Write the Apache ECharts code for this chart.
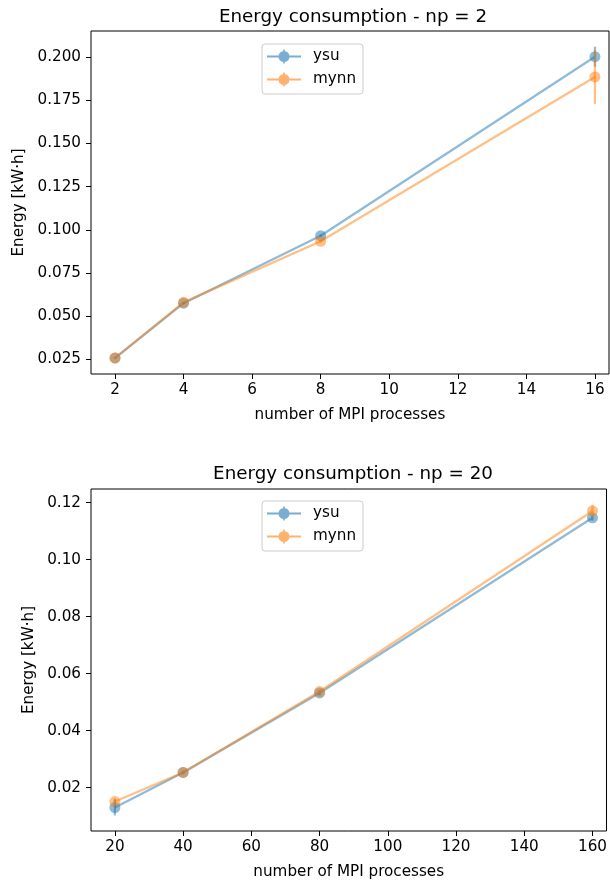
<!DOCTYPE html>
<html>
<head>
<meta charset="utf-8" />
<title>Energy consumption</title>
<style>
html, body { margin: 0; padding: 0; background: #fff; }
#main { width: 610px; height: 882px; }
</style>
</head>
<body>
<div id="main"></div>
<script src="https://cdn.jsdelivr.net/npm/echarts@6/dist/echarts.min.js"></script>
<script>
// top panel: np = 2
var procsTop = [2, 4, 8, 16];
var ysuTop = [0.0257, 0.0575, 0.0966, 0.2003];
var ysuTopErr = [0.0003, 0.0006, 0.0008, 0.0058];
var mynnTop = [0.0258, 0.0580, 0.0934, 0.1886];
var mynnTopErr = [0.0003, 0.0006, 0.0008, 0.0156];
var xTicksTop = [2, 4, 6, 8, 10, 12, 14, 16];
var yTicksTop = [0.025, 0.050, 0.075, 0.100, 0.125, 0.150, 0.175, 0.200];

// bottom panel: np = 20
var procsBot = [20, 40, 80, 160];
var ysuBot = [0.0130, 0.0253, 0.0532, 0.1147];
var ysuBotErr = [0.0028, 0.0006, 0.0008, 0.0010];
var mynnBot = [0.0151, 0.0253, 0.0537, 0.1171];
var mynnBotErr = [0.0012, 0.0006, 0.0008, 0.0022];
var xTicksBot = [20, 40, 60, 80, 100, 120, 140, 160];
var yTicksBot = [0.02, 0.04, 0.06, 0.08, 0.10, 0.12];

var BLUE = '#1f77b4', ORANGE = '#ff7f0e';
var FONT = 'DejaVu Sans';
var FS = 15.2;
// line + marker + vertical errorbar, like matplotlib's legend handle
var ICON = 'path://M0,6.1H34V7.9H0Z M11.5,7A5.5,5.5 0 1,1 22.5,7A5.5,5.5 0 1,1 11.5,7Z M16.2,0H17.8V14H16.2Z';

function pairs(xs, ys) {
  return xs.map(function (x, i) { return [x, ys[i]]; });
}
function triples(xs, ys, es) {
  return xs.map(function (x, i) { return [x, ys[i], es[i]]; });
}

function errBars(color) {
  return function (params, api) {
    var x = api.value(0), y = api.value(1), e = api.value(2);
    var a = api.coord([x, y - e]);
    var b = api.coord([x, y + e]);
    return {
      type: 'line',
      shape: { x1: a[0], y1: a[1], x2: b[0], y2: b[1] },
      style: { stroke: color, lineWidth: 2.3, opacity: 0.5 }
    };
  };
}

function lineSeries(name, idx, data, color) {
  return {
    name: name, type: 'line', xAxisIndex: idx, yAxisIndex: idx,
    data: data, symbol: 'circle', symbolSize: 11, showSymbol: true,
    lineStyle: { color: color, width: 2.3, opacity: 0.5 },
    itemStyle: { color: color, opacity: 0.5, borderWidth: 0 },
    emphasis: { disabled: true }, animation: false, z: 2
  };
}

function errSeries(name, idx, data, color) {
  return {
    name: name, type: 'custom', xAxisIndex: idx, yAxisIndex: idx,
    data: data, renderItem: errBars(color), animation: false, z: 3,
    encode: { x: 0, y: 1 }
  };
}

function xAxisFor(idx, min, max, ticks) {
  return {
    type: 'value', gridIndex: idx, min: min, max: max,
    name: 'number of MPI processes', nameLocation: 'middle', nameGap: 34,
    nameTextStyle: { fontFamily: FONT, fontSize: FS, color: '#000' },
    axisLine: { show: false },
    axisTick: { show: true, length: 5, inside: false, customValues: ticks,
      lineStyle: { color: '#000', width: 1 } },
    axisLabel: { customValues: ticks, margin: 9, fontFamily: FONT, fontSize: FS, color: '#000' },
    splitLine: { show: false }
  };
}

function yAxisFor(idx, min, max, ticks, digits, gap) {
  return {
    type: 'value', gridIndex: idx, min: min, max: max,
    name: 'Energy [kW·h]', nameLocation: 'middle', nameGap: gap, nameRotate: 90,
    nameTextStyle: { fontFamily: FONT, fontSize: FS, color: '#000' },
    axisLine: { show: false },
    axisTick: { show: true, length: 5, inside: false, customValues: ticks,
      lineStyle: { color: '#000', width: 1 } },
    axisLabel: { customValues: ticks, margin: 10, fontFamily: FONT, fontSize: FS, color: '#000',
      formatter: function (v) { return v.toFixed(digits); } },
    splitLine: { show: false }
  };
}

function legendFor(top) {
  return {
    orient: 'vertical', left: 262, top: top,
    data: [
      { name: 'ysu', icon: ICON, itemStyle: { color: BLUE, opacity: 0.6 } },
      { name: 'mynn', icon: ICON, itemStyle: { color: ORANGE, opacity: 0.6 } }
    ],
    itemWidth: 34, itemHeight: 14, itemGap: 8,
    padding: [5, 7, 7, 5],
    backgroundColor: 'rgba(255,255,255,0.8)',
    borderColor: '#cccccc', borderWidth: 1, borderRadius: 3,
    textStyle: { fontFamily: FONT, fontSize: FS, color: '#000', padding: [0, 0, 0, 7] },
    selectedMode: false
  };
}

var chart = echarts.init(document.getElementById('main'), null, { renderer: 'canvas' });

var option = {
  backgroundColor: '#fff',
  animation: false,
  title: [
    { text: 'Energy consumption - np = 2', left: 353, top: 8, textAlign: 'center', padding: 0,
      textStyle: { fontFamily: FONT, fontSize: 18.3, fontWeight: 'normal', color: '#000' } },
    { text: 'Energy consumption - np = 20', left: 353, top: 465, textAlign: 'center', padding: 0,
      textStyle: { fontFamily: FONT, fontSize: 18.3, fontWeight: 'normal', color: '#000' } }
  ],
  legend: [legendFor(44), legendFor(501)],
  grid: [
    { left: 91, right: 1, top: 31, height: 343, show: true, borderColor: '#000', borderWidth: 1, containLabel: false },
    { left: 91, right: 1, top: 489, height: 342, show: true, borderColor: '#000', borderWidth: 1, containLabel: false }
  ],
  xAxis: [
    xAxisFor(0, 1.30, 16.41, xTicksTop),
    xAxisFor(1, 13.0, 164.1, xTicksBot)
  ],
  yAxis: [
    yAxisFor(0, 0.0165, 0.2152, yTicksTop, 3, 64),
    yAxisFor(1, 0.00475, 0.1248, yTicksBot, 2, 54)
  ],
  series: [
    lineSeries('ysu', 0, pairs(procsTop, ysuTop), BLUE),
    errSeries('ysu err', 0, triples(procsTop, ysuTop, ysuTopErr), BLUE),
    lineSeries('mynn', 0, pairs(procsTop, mynnTop), ORANGE),
    errSeries('mynn err', 0, triples(procsTop, mynnTop, mynnTopErr), ORANGE),
    lineSeries('ysu', 1, pairs(procsBot, ysuBot), BLUE),
    errSeries('ysu err', 1, triples(procsBot, ysuBot, ysuBotErr), BLUE),
    lineSeries('mynn', 1, pairs(procsBot, mynnBot), ORANGE),
    errSeries('mynn err', 1, triples(procsBot, mynnBot, mynnBotErr), ORANGE)
  ]
};

chart.setOption(option);
</script>
</body>
</html>
